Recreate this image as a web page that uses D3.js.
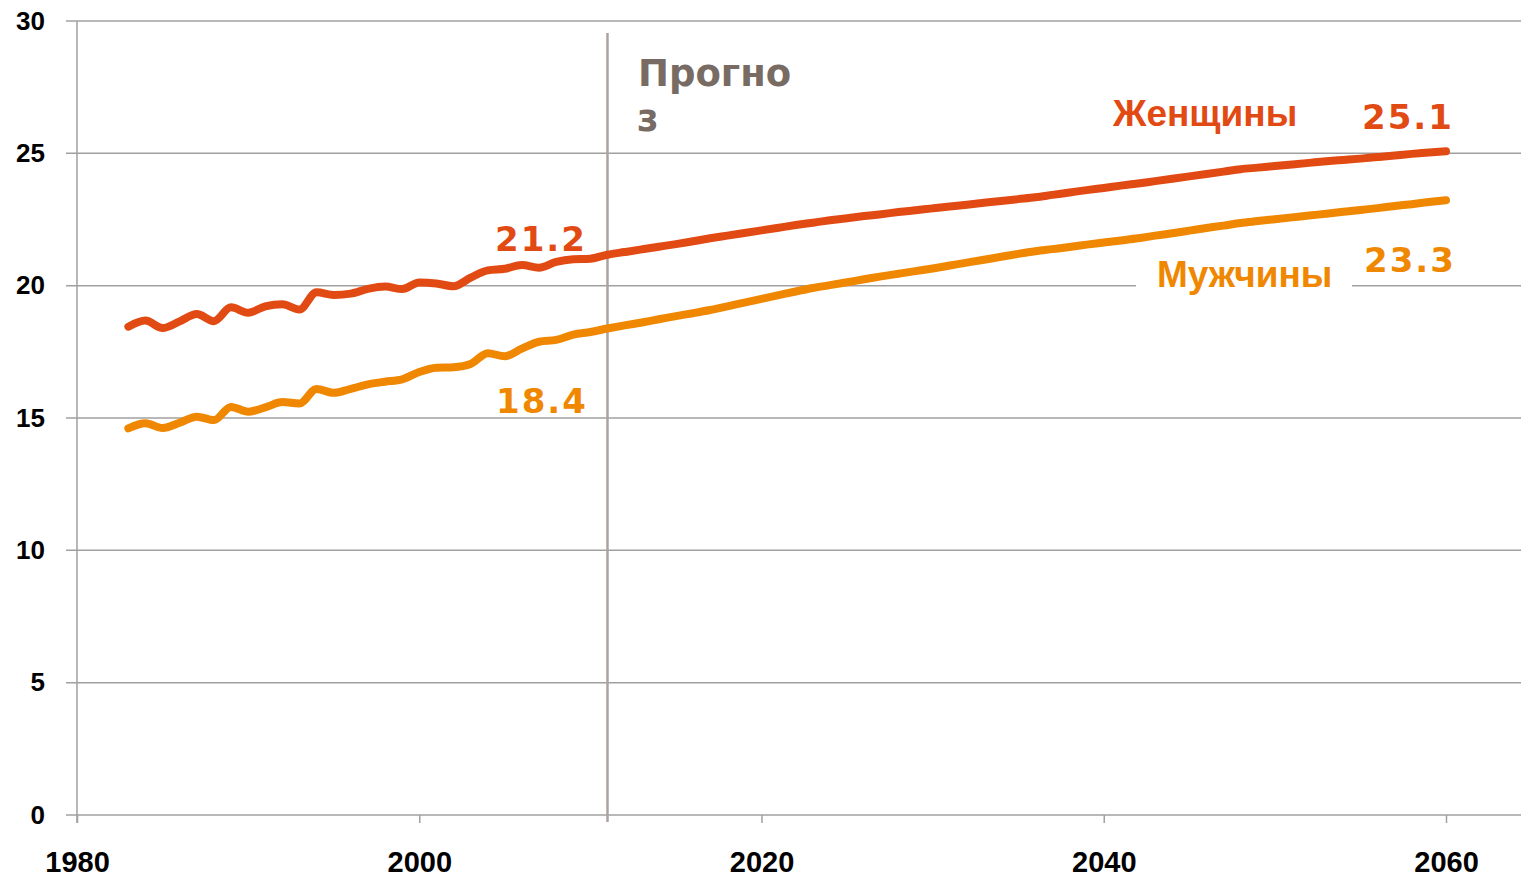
<!DOCTYPE html>
<html>
<head>
<meta charset="utf-8">
<script src="https://cdn.jsdelivr.net/npm/d3@7"></script>
<style>
  body { margin: 0; background: #fff; }
  svg { display: block; }
</style>
</head>
<body>
<svg id="chart" width="1521" height="879"></svg>
<script>
// Data
const years = d3.range(1983, 2061);
const women = [
  18.45, 18.68, 18.40, 18.65, 18.93, 18.66, 19.18, 18.98, 19.22, 19.30,
  19.10, 19.75, 19.65, 19.70, 19.88, 19.97, 19.87, 20.12, 20.08, 19.98,
  20.30, 20.58, 20.64, 20.78, 20.68, 20.90, 21.00, 21.02,
  21.17, 21.27, 21.37, 21.47, 21.57, 21.68, 21.79, 21.89, 21.99, 22.09,
  22.19, 22.29, 22.38, 22.47, 22.55, 22.63, 22.70, 22.78, 22.85, 22.92,
  22.99, 23.06, 23.13, 23.20, 23.27, 23.34, 23.43, 23.52, 23.61, 23.69,
  23.78, 23.86, 23.95, 24.04, 24.13, 24.22, 24.31, 24.40, 24.46, 24.52,
  24.58, 24.64, 24.70, 24.75, 24.80, 24.86, 24.92, 24.98, 25.03, 25.08
];
const men = [
  14.61, 14.80, 14.62, 14.82, 15.05, 14.92, 15.42, 15.24, 15.40, 15.60,
  15.55, 16.10, 15.95, 16.10, 16.27, 16.37, 16.46, 16.74, 16.90, 16.92,
  17.04, 17.45, 17.33, 17.62, 17.88, 17.95, 18.15, 18.25,
  18.38, 18.50, 18.61, 18.73, 18.85, 18.96, 19.08, 19.22, 19.36, 19.50,
  19.64, 19.78, 19.91, 20.02, 20.13, 20.24, 20.35, 20.45, 20.55, 20.65,
  20.76, 20.87, 20.98, 21.09, 21.20, 21.30, 21.38, 21.46, 21.55, 21.63,
  21.71, 21.79, 21.89, 21.98, 22.08, 22.18, 22.27, 22.37, 22.44, 22.51,
  22.58, 22.65, 22.72, 22.79, 22.86, 22.93, 23.01, 23.08, 23.16, 23.23
];
const yTicks = [0, 5, 10, 15, 20, 25, 30];
const xTicks = [1980, 2000, 2020, 2040, 2060];
const forecastYear = 2011;

const red = '#e24a14';
const orange = '#f08700';
const gridColor = '#a0a0a0';

const svg = d3.select('#chart');
const W = 1521;

const x = d3.scaleLinear().domain([1980, 2060]).range([77, 1446]);
const y = d3.scaleLinear().domain([0, 30]).range([815, 21]);

// Gridlines
svg.append('g')
  .selectAll('line')
  .data(yTicks)
  .enter().append('line')
  .attr('x1', 66)
  .attr('x2', W)
  .attr('y1', d => y(d))
  .attr('y2', d => y(d))
  .attr('stroke', gridColor)
  .attr('stroke-width', 1.5);

// Y axis line
svg.append('line')
  .attr('x1', x(1980)).attr('x2', x(1980))
  .attr('y1', y(30)).attr('y2', y(0) + 8)
  .attr('stroke', gridColor)
  .attr('stroke-width', 1.5);

// Y axis labels
const yAxis = svg.append('g')
  .attr('transform', `translate(${x(1980)},0)`)
  .call(d3.axisLeft(y).tickValues(yTicks).tickSize(0).tickPadding(32));
yAxis.select('.domain').remove();
yAxis.selectAll('text')
  .attr('fill', '#000')
  .style('font-family', '"Liberation Sans", Arial, sans-serif')
  .style('font-weight', 'bold')
  .style('font-size', '26px');

// X axis
const xAxis = svg.append('g')
  .attr('transform', `translate(0,${y(0)})`)
  .call(d3.axisBottom(x).tickValues(xTicks).tickSize(8).tickSizeOuter(0).tickPadding(28).tickFormat(d3.format('d')));
xAxis.select('.domain').remove();
xAxis.selectAll('line').attr('stroke', gridColor).attr('stroke-width', 1.5);
xAxis.selectAll('text')
  .attr('fill', '#000')
  .style('font-family', '"Liberation Sans", Arial, sans-serif')
  .style('font-weight', 'bold')
  .style('font-size', '29px');

// Forecast divider
svg.append('line')
  .attr('x1', x(forecastYear)).attr('x2', x(forecastYear))
  .attr('y1', 33).attr('y2', y(0) + 7)
  .attr('stroke', '#aba49e')
  .attr('stroke-width', 2.5);

svg.append('text')
  .attr('fill', '#776b63')
  .style('font-family', '"DejaVu Sans", Verdana, sans-serif')
  .style('font-weight', 'bold')
  .style('font-size', '37px')
  .call(t => {
    t.append('tspan').attr('x', 638).attr('y', 86).text('Прогно');
    t.append('tspan').attr('x', 637).attr('y', 131).text('з');
  });

// Lines
const line = d3.line()
  .x((d, i) => x(years[i]))
  .y(d => y(d))
  .curve(d3.curveMonotoneX);

[[men, orange], [women, red]].forEach(([series, color]) => {
  svg.append('path')
    .datum(series)
    .attr('d', line)
    .attr('fill', 'none')
    .attr('stroke', color)
    .attr('stroke-width', 8)
    .attr('stroke-linecap', 'round')
    .attr('stroke-linejoin', 'round');
});

// Series labels
const nameFont = '"Liberation Sans", Arial, sans-serif';
svg.append('rect')
  .attr('x', 1136).attr('y', 270).attr('width', 216).attr('height', 30)
  .attr('fill', '#fff');
svg.append('text')
  .attr('x', 1113).attr('y', 126)
  .attr('fill', red)
  .style('font-family', nameFont).style('font-weight', 'bold').style('font-size', '37px')
  .text('Женщины');
svg.append('text')
  .attr('x', 1157).attr('y', 287)
  .attr('fill', orange)
  .style('font-family', nameFont).style('font-weight', 'bold').style('font-size', '37px')
  .text('Мужчины');

// Value labels
const valueLabels = [
  { text: '21.2', x: 495, y: 251, color: red },
  { text: '18.4', x: 496, y: 413, color: orange },
  { text: '25.1', x: 1362, y: 129, color: red },
  { text: '23.3', x: 1364, y: 272, color: orange }
];
svg.append('g')
  .selectAll('text')
  .data(valueLabels)
  .enter().append('text')
  .attr('x', d => d.x)
  .attr('y', d => d.y)
  .attr('fill', d => d.color)
  .style('font-family', '"DejaVu Sans", Verdana, sans-serif')
  .style('font-weight', 'bold')
  .style('font-size', '34px')
  .style('letter-spacing', '2px')
  .text(d => d.text);
</script>
</body>
</html>
